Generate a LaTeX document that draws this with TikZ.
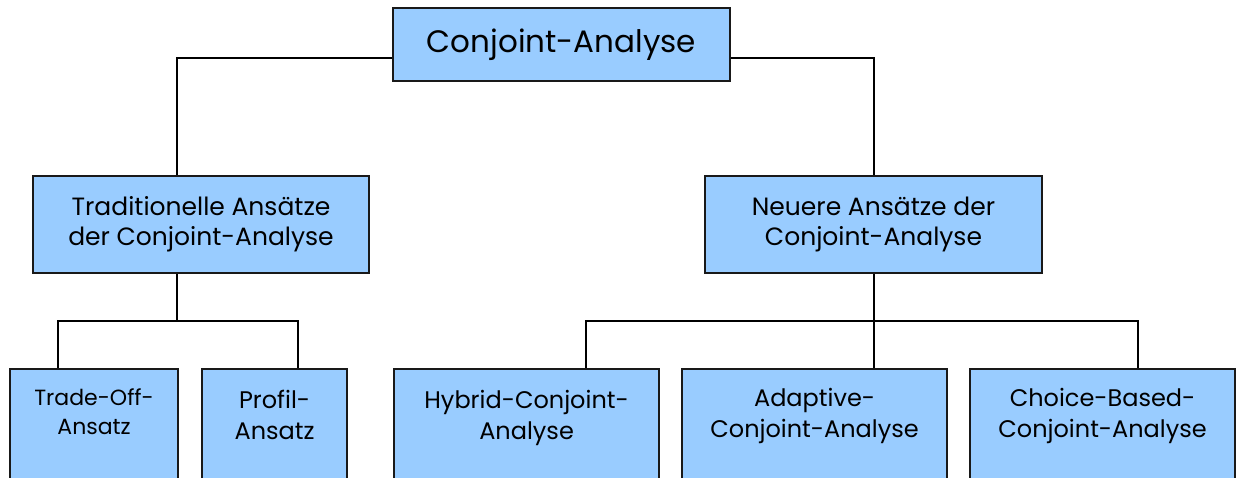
\documentclass[tikz,border=0pt]{standalone}
\usepackage{fontspec}
\setmainfont{Poppins}
\definecolor{boxblue}{RGB}{153,204,255}
\definecolor{edge}{RGB}{25,25,25}
\tikzset{
  box/.style={draw=edge, line width=2.2pt, fill=boxblue, inner sep=0pt},
  wire/.style={draw=black, line width=2pt},
  midfont/.style={font=\fontsize{25}{30}\selectfont},
  lowfont/.style={font=\fontsize{24}{31}\selectfont},
}
\newcommand{\lowtext}[3]{\parbox[t][140pt][t]{#1}{\centering\rule{0pt}{#2}#3}}
\begin{document}
\begin{tikzpicture}[x=1pt,y=-1pt]
\useasboundingbox (0,0) rectangle (1239,477);
\clip (0,0) rectangle (1239,477);

% root
\node[box, minimum width=337pt, minimum height=73pt, font=\fontsize{31}{36}\selectfont]
  (root) at (561.5,44.5) {Conjoint-Analyse};

% second level
\node[box, midfont, align=center, minimum width=336pt, minimum height=97pt]
  (trad) at (201,224.5) {Traditionelle Ansätze\\der Conjoint-Analyse};
\node[box, midfont, align=center, minimum width=337pt, minimum height=97pt]
  (neu) at (873.5,224.5) {Neuere Ansätze der\\Conjoint-Analyse};

% third level (boxes run past the lower edge)
\node[box, anchor=north west, font=\fontsize{22}{29}\selectfont]
  (trade) at (9,368) {\lowtext{168pt}{36pt}{Trade-Off-\\Ansatz}};
\node[box, anchor=north west, lowfont]
  (prof) at (201,368) {\lowtext{145pt}{39pt}{Profil-\\Ansatz}};
\node[box, anchor=north west, lowfont]
  (hyb) at (393,368) {\lowtext{265pt}{39pt}{Hybrid-Conjoint-\\Analyse}};
\node[box, anchor=north west, lowfont]
  (ada) at (681,368) {\lowtext{265pt}{37pt}{Adaptive-\\Conjoint-Analyse}};
\node[box, anchor=north west, lowfont]
  (cho) at (969,368) {\lowtext{265pt}{37pt}{Choice-Based-\\Conjoint-Analyse}};

% junction points
\coordinate (tj) at (177,321);
\coordinate (nj) at (873.5,321);

% connectors
\draw[wire] ([yshift=-13pt]root.west) -| ([xshift=-24pt]trad.north);
\draw[wire] ([yshift=-13pt]root.east) -| (neu.north);

\draw[wire] ([xshift=-24pt]trad.south) -- (tj);
\draw[wire] ([xshift=-36pt]trade.north) |- (tj) -| ([xshift=23.5pt]prof.north);

\draw[wire] (neu.south) -- (neu.south |- ada.north);
\draw[wire] ([xshift=59.5pt]hyb.north) |- (nj) -| ([xshift=35.5pt]cho.north);
\end{tikzpicture}
\end{document}
